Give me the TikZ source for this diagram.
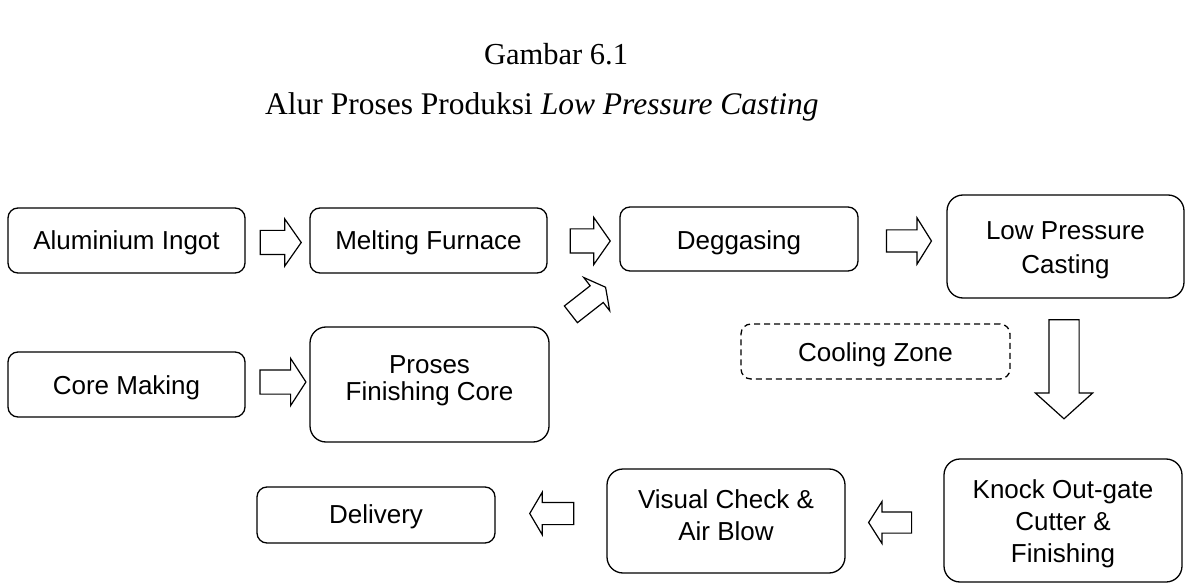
\documentclass[tikz,border=0pt]{standalone}
\usepackage{fontspec}
\setmainfont{Liberation Serif}
\newfontfamily\arialf{Liberation Sans}
\usetikzlibrary{shapes.arrows}
\newcommand\tp[1]{\rule{0pt}{#1pt}}
\newcommand\bt[1]{\rule[-#1pt]{0pt}{#1pt}}
\begin{document}
\begin{tikzpicture}[x=1pt,y=-1pt,
  box/.style={draw=black, line width=1.3pt, rounded corners=10pt, align=center,
    inner sep=0pt, font=\arialf\fontsize{26}{32}\selectfont, text=black},
  tallbox/.style={box, rounded corners=16pt},
  dashbox/.style={box, dashed, dash pattern=on 6pt off 4pt},
  blockarrow/.style={draw=black, line width=1.2pt, single arrow, inner xsep=0pt,
    minimum width=0pt},
  titlefont/.style={inner sep=0pt}
]
\useasboundingbox (0,0) rectangle (1186,585);

% titles
\node[titlefont, anchor=base, font=\fontsize{30.5}{36}\selectfont] (t1) at (556,65) {Gambar 6.1};
\node[titlefont, anchor=base west, font=\fontsize{31.5}{36}\selectfont] (t2) at (265,115) {Alur Proses Produksi \textit{Low Pressure Casting}};

% boxes
\node[box, minimum width=237pt, minimum height=65pt] (AI) at (126.5,240.5) {\tp{26}Aluminium Ingot\bt{7}};
\node[box, minimum width=237pt, minimum height=65pt] (MF) at (428.5,240.5) {\tp{26}Melting Furnace\bt{7}};
\node[box, minimum width=238pt, minimum height=64pt] (DG) at (739,239) {\tp{27}Deggasing\bt{6}};
\node[tallbox, minimum width=237pt, minimum height=103pt,
      font=\arialf\fontsize{26}{34}\selectfont] (LPC) at (1065.5,246.5) {\tp{27}Low Pressure\\Casting\bt{6}};
\node[box, minimum width=237pt, minimum height=65pt] (CM) at (126.5,384.5) {\tp{26}Core Making\bt{7}};
\node[tallbox, minimum width=239pt, minimum height=115pt,
      font=\arialf\fontsize{26}{27}\selectfont] (PFC) at (429.5,384.5) {\tp{20}Proses\\Finishing Core\bt{15}};
\node[dashbox, minimum width=269pt, minimum height=55pt] (CZ) at (875.5,351.5) {\tp{26}Cooling Zone\bt{7}};
\node[tallbox, minimum width=238pt, minimum height=123pt] (KO) at (1063,520.5) {\tp{26}Knock Out-gate\\Cutter \&\\Finishing\bt{7}};
\node[tallbox, minimum width=238pt, minimum height=104pt] (VC) at (726,521) {\tp{20}Visual Check \&\\Air Blow\bt{14}};
\node[box, minimum width=238pt, minimum height=56pt] (DL) at (376,515) {\tp{24}Delivery\bt{7}};

% block arrows
\node[blockarrow, minimum height=41pt, inner ysep=11.5pt,
      single arrow head extend=11.5pt, single arrow tip angle=110] (a1) at (276.5,242.5) {};
\node[blockarrow, minimum height=40pt, inner ysep=11.5pt,
      single arrow head extend=11.5pt, single arrow tip angle=110] (a2) at (586,241) {};
\node[blockarrow, minimum height=45pt, inner ysep=10.5pt,
      single arrow head extend=12pt, single arrow tip angle=116] (a3) at (905.5,241) {};
\node[blockarrow, minimum height=46pt, inner ysep=11.5pt,
      single arrow head extend=11.5pt, single arrow tip angle=114] (a4) at (279,382) {};
\node[blockarrow, minimum height=44pt, inner ysep=10pt,
      single arrow head extend=10.5pt, single arrow tip angle=124, rotate=38] (a5) at (586,302.5) {};
\node[blockarrow, minimum height=99pt, inner ysep=14.5pt,
      single arrow head extend=13.5pt, single arrow tip angle=96, rotate=-90] (a6) at (1064,362.5) {};
\node[blockarrow, minimum height=43pt, inner ysep=10pt,
      single arrow head extend=10.5pt, single arrow tip angle=115, rotate=180] (a7) at (893.5,522.5) {};
\node[blockarrow, minimum height=44pt, inner ysep=10.5pt,
      single arrow head extend=10pt, single arrow tip angle=119, rotate=180] (a8) at (555,513.5) {};
\end{tikzpicture}
\end{document}
